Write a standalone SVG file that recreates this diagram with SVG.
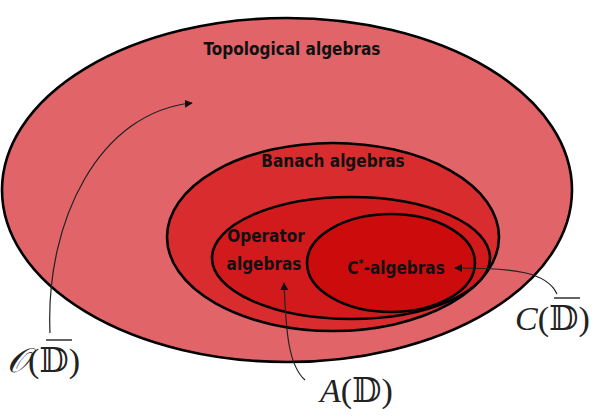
<svg xmlns="http://www.w3.org/2000/svg" width="596" height="418" viewBox="0 0 596 418">
<style>
.set{stroke:#000;stroke-width:2.6}
.lbl{font-family:"DejaVu Sans Condensed","Liberation Sans Narrow","DejaVu Sans",sans-serif;font-weight:bold;font-size:17px;fill:#111}
.math{font-family:"Liberation Serif","DejaVu Serif",serif;font-size:34px;fill:#222}
.conn{fill:none;stroke:#222;stroke-width:1.2}
.ov{stroke:#222;stroke-width:1.4}
</style>
<defs>
<marker id="ah" viewBox="0 0 10 10" refX="9" refY="5" markerWidth="8" markerHeight="8" markerUnits="userSpaceOnUse" orient="auto">
<path d="M0,0 L10,5 L0,10 z" fill="#111"/>
</marker>
</defs>
<rect width="596" height="418" fill="#fff"/>
<g id="topological">
<ellipse class="set" cx="287" cy="190" rx="285" ry="172" fill="#e06468"/>
<text class="lbl" x="292" y="55" text-anchor="middle">Topological algebras</text>
</g>
<g id="banach">
<ellipse class="set" cx="333" cy="237" rx="166" ry="94" fill="#d82c2e"/>
<text class="lbl" x="333" y="167" text-anchor="middle">Banach algebras</text>
</g>
<g id="operator">
<ellipse class="set" cx="351" cy="258" rx="139" ry="61" fill="#d21a1c"/>
<text class="lbl" x="266" y="242" text-anchor="middle">Operator</text>
<text class="lbl" x="264" y="270" text-anchor="middle">algebras</text>
</g>
<g id="cstar">
<ellipse class="set" cx="391" cy="263" rx="84" ry="49" fill="#cc0c0c"/>
<text class="lbl" x="396" y="274" text-anchor="middle">C<tspan font-size="11" dy="-7">*</tspan><tspan dy="7">-algebras</tspan></text>
</g>
<g id="label-O">
<text class="math" x="7" y="372"><tspan font-style="italic">𝒪</tspan>(𝔻)</text>
<line class="ov" x1="46" y1="340" x2="72" y2="340"/>
</g>
<g id="label-A">
<text class="math" x="320" y="402"><tspan font-style="italic">A</tspan>(𝔻)</text>
</g>
<g id="label-C">
<text class="math" x="515" y="330"><tspan font-style="italic">C</tspan>(𝔻)</text>
<line class="ov" x1="554" y1="298" x2="580" y2="298"/>
</g>
<g id="connectors">
<path class="conn" d="M50,333 C45,220 100,112 192,103" marker-end="url(#ah)"/>
<path class="conn" d="M305,380 C288,365 286,330 284,283" marker-end="url(#ah)"/>
<path class="conn" d="M557,294 C547,272 515,268 455,268" marker-end="url(#ah)"/>
</g>
</svg>
